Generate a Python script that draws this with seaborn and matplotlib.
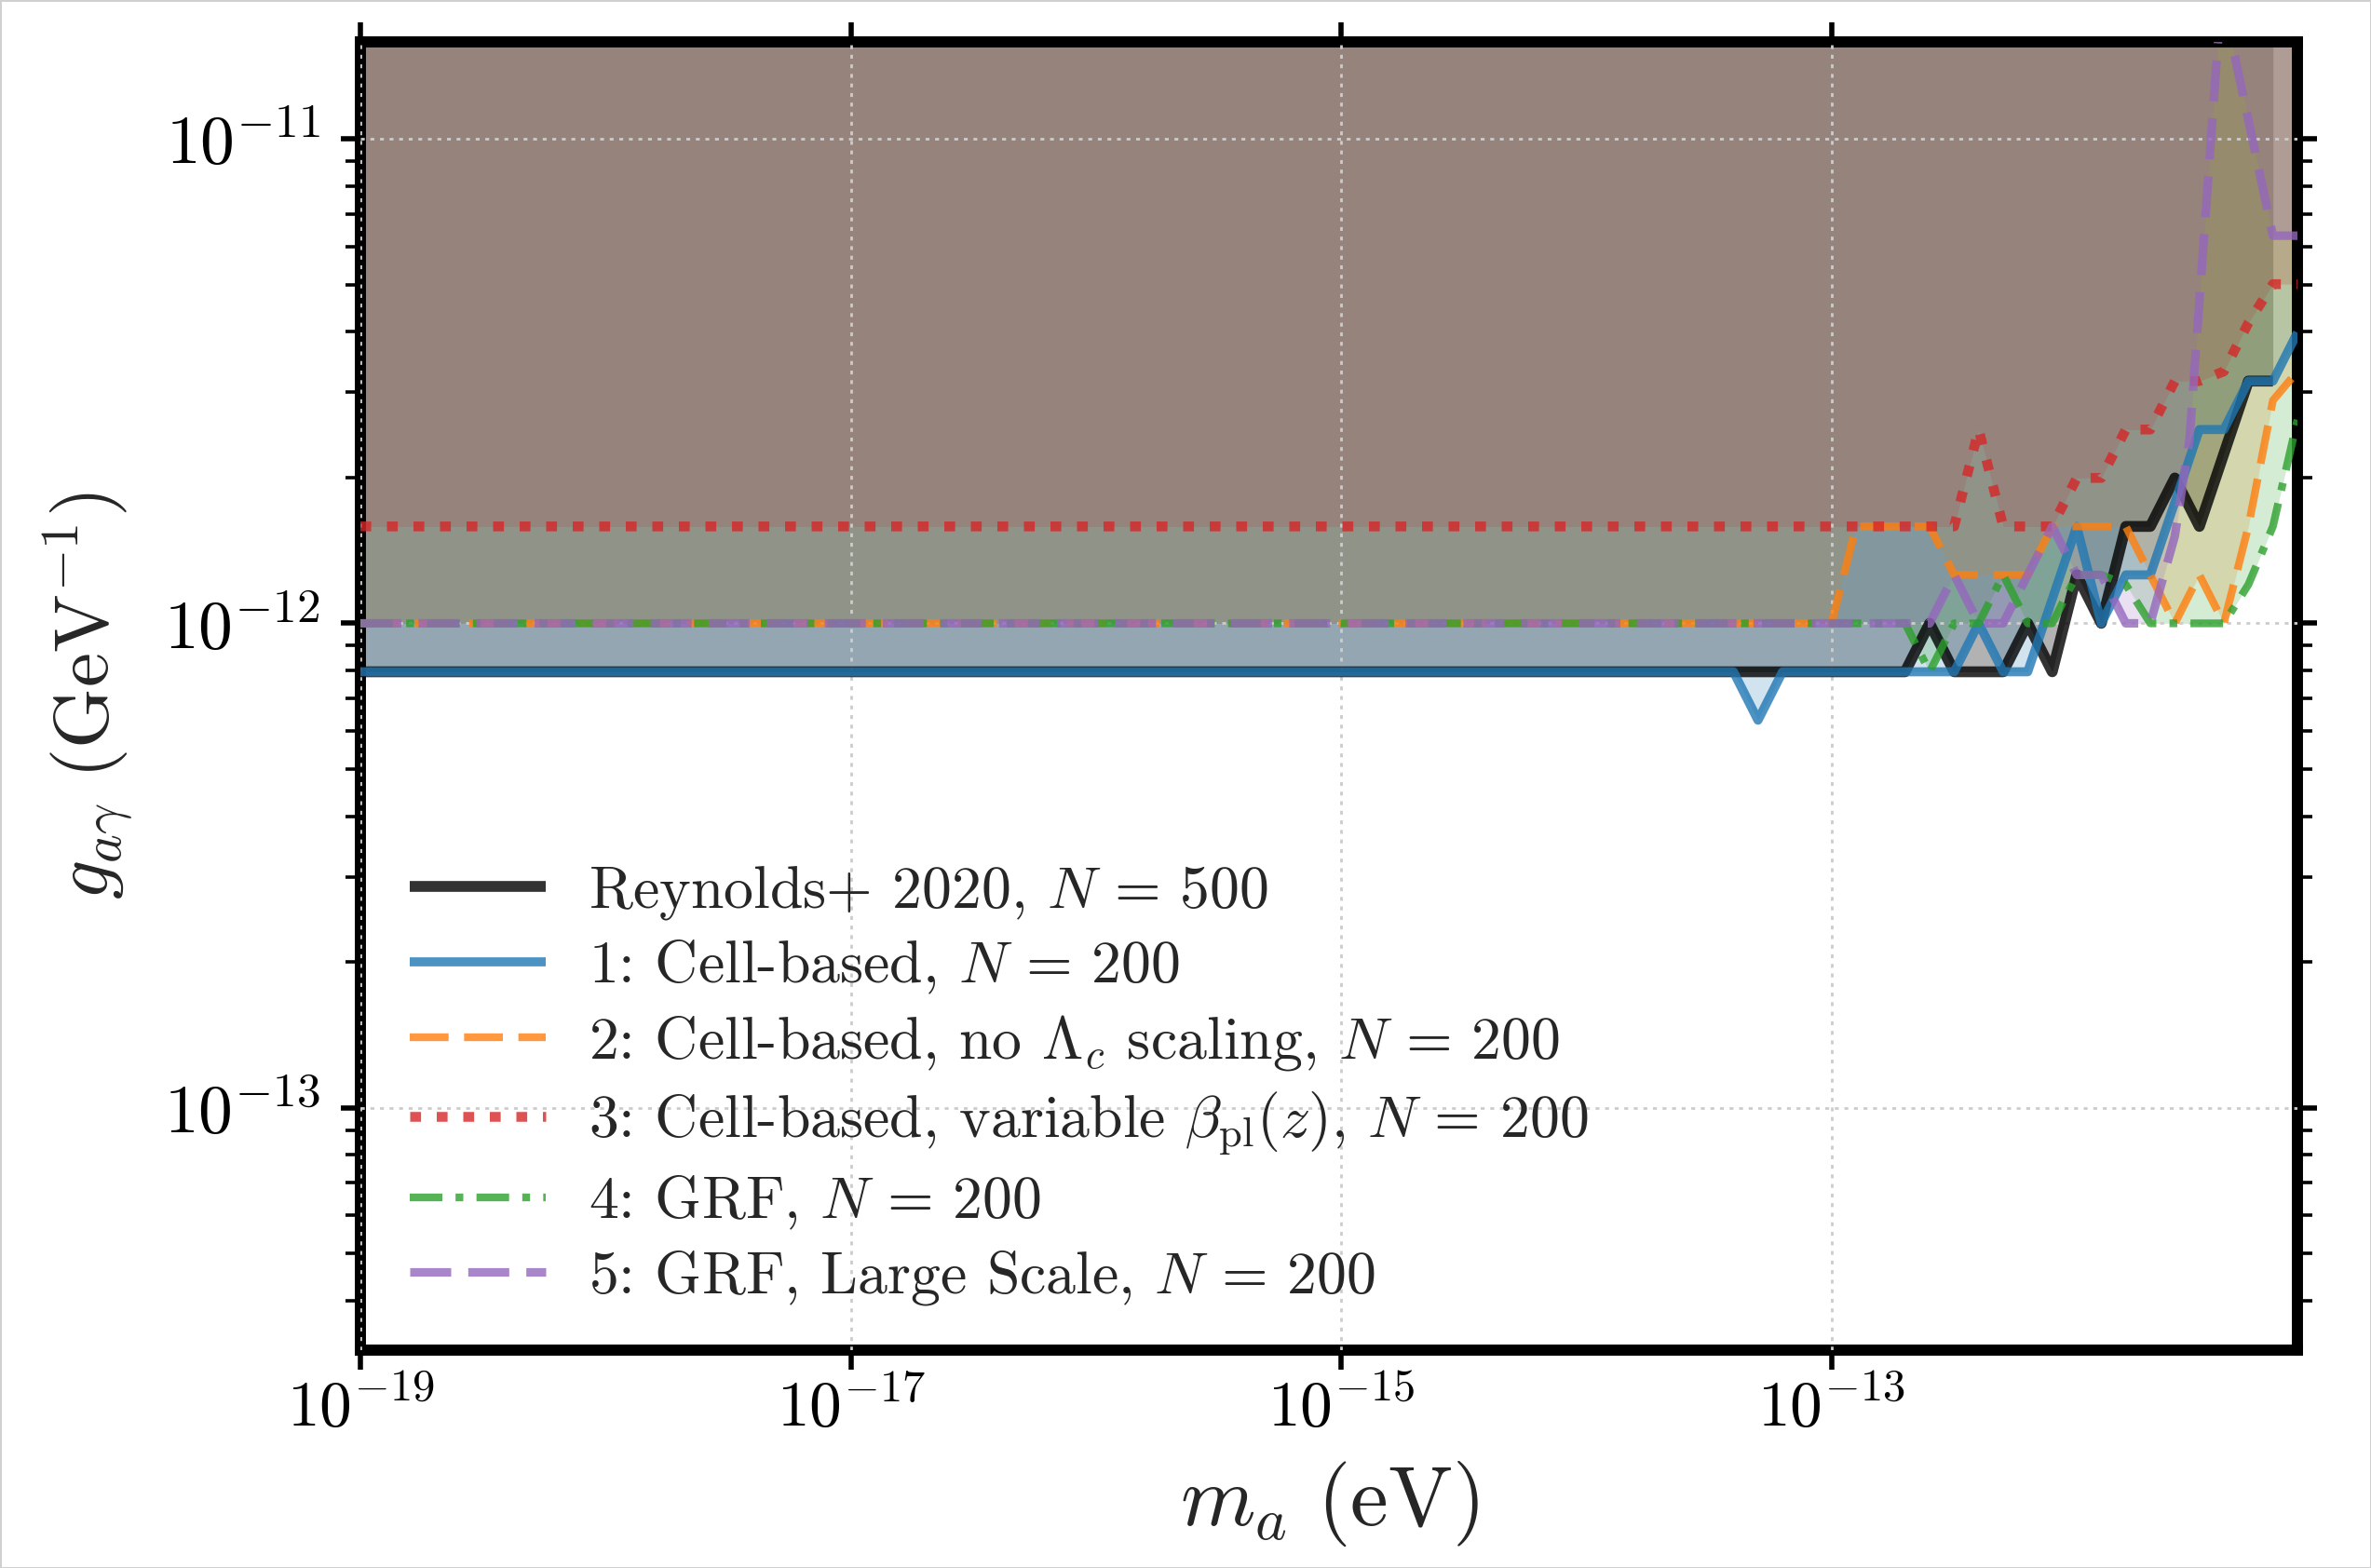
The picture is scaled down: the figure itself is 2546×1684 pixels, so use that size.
import numpy as np
import matplotlib
matplotlib.use("Agg")
import matplotlib.pyplot as plt
import seaborn as sns
from matplotlib.ticker import FixedLocator, LogLocator, NullLocator, FuncFormatter, NullFormatter

# ---- data: log10(m_a / eV) and log10(g_agamma / GeV^-1) ----
reyn_logm = [-19.0, -12.7, -12.6, -12.5, -12.3, -12.2, -12.1, -12.0, -11.9, -11.8, -11.7, -11.6, -11.5, -11.4, -11.3, -11.2]
reyn_logg = [-12.1, -12.1, -12.0, -12.1, -12.1, -12.0, -12.1, -11.9, -12.0, -11.8, -11.8, -11.7, -11.8, -11.65, -11.5, -11.5]

cell_logm = [-19.0, -13.4, -13.3, -13.2, -12.5, -12.4, -12.3, -12.2, -12.0, -11.9, -11.8, -11.7, -11.6, -11.5, -11.4, -11.3, -11.2, -11.1]
cell_logg = [-12.1, -12.1, -12.2, -12.1, -12.1, -12.0, -12.1, -12.1, -11.8, -12.0, -11.9, -11.9, -11.75, -11.6, -11.6, -11.5, -11.5, -11.4]

nolam_logm = [-19.0, -13.0, -12.9, -12.6, -12.5, -12.2, -12.1, -11.8, -11.6, -11.5, -11.4, -11.3, -11.2, -11.1]
nolam_logg = [-12.0, -12.0, -11.8, -11.8, -11.9, -11.9, -11.8, -11.8, -12.0, -11.9, -12.0, -11.8, -11.54, -11.48]

beta_logm = [-19.0, -12.5, -12.4, -12.3, -12.1, -12.0, -11.9, -11.8, -11.7, -11.6, -11.5, -11.4, -11.3, -11.2, -11.1]
beta_logg = [-11.8, -11.8, -11.6, -11.8, -11.8, -11.7, -11.7, -11.6, -11.6, -11.5, -11.5, -11.48, -11.38, -11.3, -11.3]

grf_logm = [-19.0, -12.7, -12.6, -12.5, -12.4, -12.3, -12.2, -12.1, -12.0, -11.9, -11.8, -11.7, -11.4, -11.3, -11.2, -11.1]
grf_logg = [-12.0, -12.0, -12.1, -12.0, -12.0, -11.9, -12.0, -12.0, -11.9, -11.9, -11.92, -12.0, -12.0, -11.92, -11.8, -11.58]

grfl_logm = [-19.0, -12.6, -12.5, -12.4, -12.3, -12.1, -12.0, -11.9, -11.8, -11.7, -11.6, -11.54, -11.41, -11.2, -11.1]
grfl_logg = [-12.0, -12.0, -11.9, -12.0, -12.0, -11.8, -11.9, -11.9, -12.0, -12.0, -11.82, -11.62, -10.70, -11.2, -11.2]

labels = [
    r"Reynolds+ 2020, $N\,=\,500$",
    r"1: Cell-based, $N\,=\,200$",
    r"2: Cell-based, no $\Lambda_c$ scaling, $N\,=\,200$",
    r"3: Cell-based, variable $\beta_{\rm pl}(z)$, $N\,=\,200$",
    r"4: GRF, $N\,=\,200$",
    r"5: GRF, Large Scale, $N\,=\,200$",
]
colors = ["black", "#1f77b4", "#ff7f0e", "#d62728", "#2ca02c", "#9467bd"]

x_ticks = [1e-19, 1e-17, 1e-15, 1e-13]
y_ticks = [1e-13, 1e-12, 1e-11]

# ---- style ----
sns.set_theme(style="white")
plt.rcParams["font.family"] = ["cmr10", "DejaVu Serif"]
plt.rcParams["mathtext.fontset"] = "cm"
plt.rcParams["axes.formatter.use_mathtext"] = True
plt.rcParams["axes.unicode_minus"] = False

DPI = 200
fig = plt.figure(figsize=(2546 / DPI, 1684 / DPI), dpi=DPI)
fig.patch.set_facecolor("white")
fig.patch.set_edgecolor("#d0d0d0")
fig.patch.set_linewidth(1.0)
ax = fig.add_axes([387 / 2546, 1 - 1450 / 1684, (2467 - 387) / 2546, (1450 - 45) / 1684])
ax.set_xscale("log")
ax.set_yscale("log")

series = [
    (reyn_logm, reyn_logg),
    (cell_logm, cell_logg),
    (nolam_logm, nolam_logg),
    (beta_logm, beta_logg),
    (grf_logm, grf_logg),
    (grfl_logm, grfl_logg),
]
fill_alpha = [0.3, 0.2, 0.2, 0.2, 0.2, 0.2]
lws = [4.2, 3.5, 3.0, 3.8, 3.0, 3.3]
dash_styles = [None, None, (5.0, 2.0), (1.1, 1.6), (4.2, 1.7, 1.0, 1.7), (4.8, 2.0)]

g_top = 1e-9
for i, (lm, lg) in enumerate(series):
    m = 10.0 ** np.array(lm)
    g = 10.0 ** np.array(lg)
    ax.fill_between(m, g, g_top, color=colors[i], alpha=fill_alpha[i], lw=0, zorder=1 + 0.01 * i)

handles = []
for i, (lm, lg) in enumerate(series):
    m = 10.0 ** np.array(lm)
    g = 10.0 ** np.array(lg)
    n_before = len(ax.get_lines())
    sns.lineplot(x=m, y=g, ax=ax, color=colors[i], alpha=0.8,
                 estimator=None, sort=False, legend=False)
    line = ax.get_lines()[n_before]
    line.set_linewidth(lws[i])
    line.set_zorder(3 + 0.01 * i)
    line.set_solid_capstyle("butt")
    if dash_styles[i] is not None:
        line.set_dashes(dash_styles[i])
        line.set_dash_capstyle("butt")
    line.set_label(labels[i])
    handles.append(line)

ax.set_xlim(1e-19, 10 ** -11.1)
ax.set_ylim(10 ** -13.5, 10 ** -10.8)

# ticks
ax.xaxis.set_major_locator(FixedLocator(x_ticks))
ax.xaxis.set_minor_locator(NullLocator())
ax.yaxis.set_major_locator(FixedLocator(y_ticks))
ax.yaxis.set_minor_locator(LogLocator(base=10, subs=np.arange(2, 10), numticks=30))
ax.yaxis.set_minor_formatter(NullFormatter())
fmt = FuncFormatter(lambda v, p: r"$10^{%d}$" % int(round(np.log10(v))))
ax.xaxis.set_major_formatter(fmt)
ax.yaxis.set_major_formatter(fmt)

ax.tick_params(axis="both", which="both", direction="out", top=True, right=True,
               bottom=True, left=True, colors="black")
ax.tick_params(axis="both", which="major", length=7.5, width=2.0)
ax.tick_params(axis="both", which="minor", length=5.8, width=1.3)
ax.tick_params(axis="x", which="major", pad=3, labelsize=25)
ax.tick_params(axis="y", which="major", pad=8, labelsize=26.5)

for sp in ax.spines.values():
    sp.set_visible(True)
    sp.set_linewidth(4.3)
    sp.set_color("black")

ax.set_axisbelow(False)
ax.grid(True, which="major", color="0.8", lw=1.0, linestyle=(0, (1.5, 2.2)))
ax.grid(False, which="minor")

ax.set_xlabel(r"$m_a\ (\mathrm{eV})$", fontsize=33)
ax.set_ylabel(r"$g_{a\gamma}\ (\mathrm{GeV}^{-1})$", fontsize=30)
ax.xaxis.set_label_coords(0.5, -0.083)
ax.yaxis.set_label_coords(-0.117, 0.5)

ax.legend(handles=handles, labels=labels, loc="lower left", bbox_to_anchor=(0.0255, 0.033),
          borderaxespad=0, borderpad=0, frameon=False, fontsize=23,
          handlelength=2.29, handletextpad=0.72, labelspacing=0.28)

fig.savefig("out.png", dpi=DPI, facecolor="white", edgecolor=fig.get_edgecolor())
